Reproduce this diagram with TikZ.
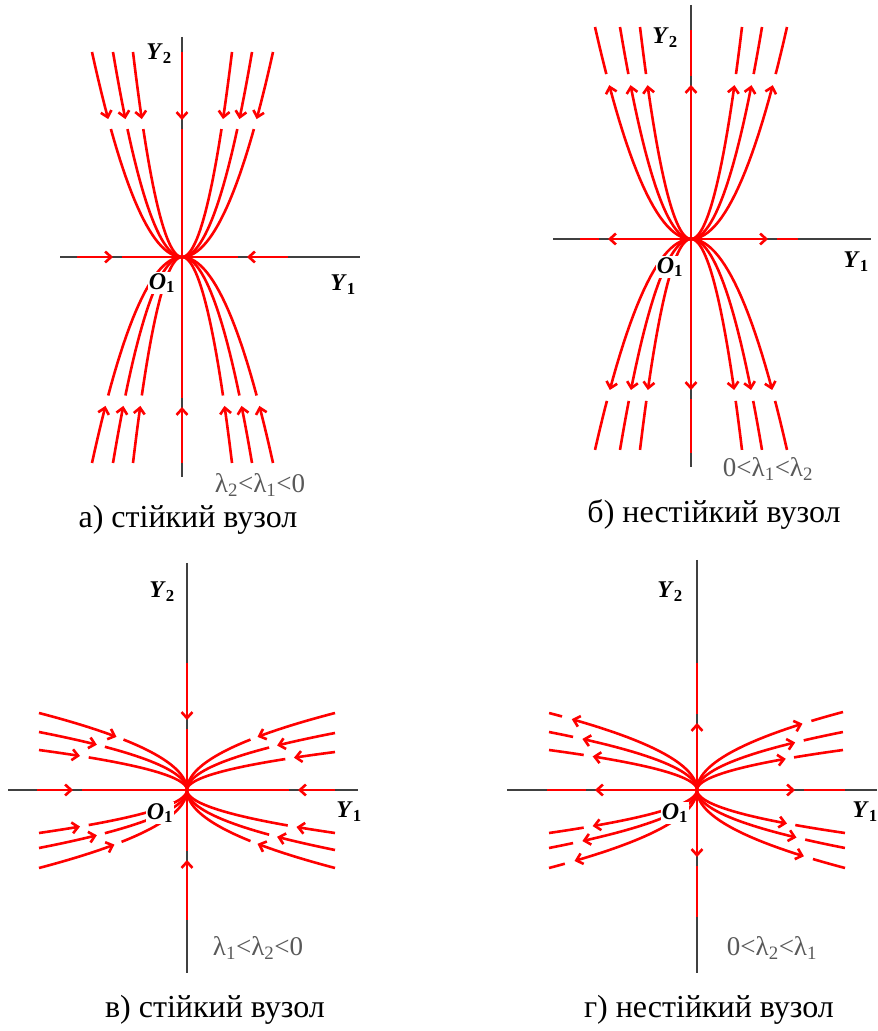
\documentclass[tikz,border=0pt]{standalone}
\usepackage{fontspec}
\setmainfont{Liberation Serif}
\usetikzlibrary{arrows.meta}

\tikzset{
  axis/.style={black!75, line width=1.8pt},
  flow/.style={red, line width=2.6pt},
  flowtip/.style={-{Straight Barb[length=6pt,width=11pt]}},
  axname/.style={font=\fontsize{24}{24}\selectfont\bfseries, inner sep=1pt},
  origin/.style={axname, fill=white},
  eigen/.style={font=\fontsize{27}{27}\selectfont, text=black!65, inner sep=1pt},
  caption/.style={font=\fontsize{32}{32}\selectfont, anchor=base}
}

\begin{document}
\begin{tikzpicture}[x=1pt,y=1pt]
\useasboundingbox (0,0) rectangle (878,1031);

% a) stable node, trajectories tangent to Y1
\begin{scope}[shift={(182,774)}]
\draw[axis] (0,220) -- (0,-220);
\draw[axis] (-122,0) -- (178,0);
\draw[flow,flowtip] (0,205) -- (0,137);
\draw[flow] (0,128) -- (0,0);
\draw[flow,flowtip] (0,-206) -- (0,-150);
\draw[flow] (0,-141) -- (0,0);
\draw[flow,flowtip] (-105,0) -- (-69,0);
\draw[flow] (-60,0) -- (0,0);
\draw[flow,flowtip] (106,0) -- (65,0);
\draw[flow] (56,0) -- (0,0);
\foreach \X in {-90,-69,-49,50,70,91} {
  \draw[flow,flowtip] plot[domain=1:0.82] ({\X*\x},{205*\x*\x});
  \draw[flow] plot[domain=0.79:0] ({\X*\x},{205*\x*\x});
  \draw[flow,flowtip] plot[domain=1:0.85] ({\X*\x},{-206*\x*\x});
  \draw[flow] plot[domain=0.82:0] ({\X*\x},{-206*\x*\x});
}
\node[axname] (a-y2) at (-23,203) {\textit{Y}\textsubscript{2}};
\node[axname] (a-y1) at (161,-28) {\textit{Y}\textsubscript{1}};
\node[origin] (a-o) at (-20,-26) {\textit{O}\textsubscript{1}};
\node[eigen] (a-lam) at (78,-228) {λ\textsubscript{2}<λ\textsubscript{1}<0};
\node[caption] (a-cap) at (6,-271) {а) стійкий вузол};
\end{scope}

% b) unstable node
\begin{scope}[shift={(691,792)}]
\draw[axis] (0,234) -- (0,-228);
\draw[axis] (-138,0) -- (180,0);
\draw[flow,flowtip] (0,0) -- (0,154);
\draw[flow] (0,163) -- (0,209);
\draw[flow,flowtip] (0,0) -- (0,-151);
\draw[flow] (0,-160) -- (0,-214);
\draw[flow,flowtip] (0,0) -- (-83,0);
\draw[flow] (-92,0) -- (-111,0);
\draw[flow,flowtip] (0,0) -- (77,0);
\draw[flow] (86,0) -- (107,0);
\foreach \X in {-96,-71,-51,51,71,96} {
  \draw[flow,flowtip] plot[domain=0:0.852] ({\X*\x},{212*\x*\x});
  \draw[flow] plot[domain=0.882:1] ({\X*\x},{212*\x*\x});
  \draw[flow,flowtip] plot[domain=0:0.846] ({\X*\x},{-211*\x*\x});
  \draw[flow] plot[domain=0.876:1] ({\X*\x},{-211*\x*\x});
}
\node[axname] (b-y2) at (-26,201) {\textit{Y}\textsubscript{2}};
\node[axname] (b-y1) at (165,-23) {\textit{Y}\textsubscript{1}};
\node[origin] (b-o) at (-21,-28) {\textit{O}\textsubscript{1}};
\node[eigen] (b-lam) at (77,-230) {0<λ\textsubscript{1}<λ\textsubscript{2}};
\node[caption] (b-cap) at (23,-284) {б) нестійкий вузол};
\end{scope}

% c) stable node, trajectories tangent to Y2
\begin{scope}[shift={(187,241)}]
\draw[axis] (0,227) -- (0,-183);
\draw[axis] (-179,0) -- (171,0);
\draw[flow,flowtip] (0,127) -- (0,70);
\draw[flow] (0,61) -- (0,0);
\draw[flow,flowtip] (0,-130) -- (0,-70);
\draw[flow] (0,-61) -- (0,0);
\draw[flow,flowtip] (-150,0) -- (-114,0);
\draw[flow] (-105,0) -- (0,0);
\draw[flow,flowtip] (148,0) -- (111,0);
\draw[flow] (102,0) -- (0,0);
\foreach \X/\Y/\ta in {-148/40/0.85, -148/58/0.78, -148/77/0.69,
    -148/-43/0.85, -148/-58/0.78, -148/-78/0.70,
    148/38/0.85, 148/57/0.78, 148/77/0.69,
    148/-43/0.86, 148/-60/0.78, 148/-78/0.69} {
  \pgfmathsetmacro\tb{\ta-0.035}
  \draw[flow,flowtip] plot[domain=1:\ta] ({\X*\x*\x},{\Y*\x});
  \draw[flow] plot[domain=\tb:0] ({\X*\x*\x},{\Y*\x});
}
\node[axname] (c-y2) at (-25,198) {\textit{Y}\textsubscript{2}};
\node[axname] (c-y1) at (162,-22) {\textit{Y}\textsubscript{1}};
\node[origin] (c-o) at (-27,-23) {\textit{O}\textsubscript{1}};
\node[eigen] (c-lam) at (71,-158) {λ\textsubscript{1}<λ\textsubscript{2}<0};
\node[caption] (c-cap) at (28,-228) {в) стійкий вузол};
\end{scope}

% d) unstable node
\begin{scope}[shift={(697,241)}]
\draw[axis] (0,230) -- (0,-183);
\draw[axis] (-190,0) -- (180,0);
\draw[flow,flowtip] (0,0) -- (0,67);
\draw[flow] (0,76) -- (0,127);
\draw[flow,flowtip] (0,0) -- (0,-67);
\draw[flow] (0,-76) -- (0,-127);
\draw[flow,flowtip] (0,0) -- (-102,0);
\draw[flow] (-111,0) -- (-150,0);
\draw[flow,flowtip] (0,0) -- (98,0);
\draw[flow] (107,0) -- (148,0);
\foreach \X/\Y/\ta in {-148/40/0.84, -148/58/0.88, -148/77/0.92,
    -148/-43/0.84, -148/-58/0.88, -148/-78/0.91,
    146/40/0.78, 146/58/0.82, 146/78/0.85,
    148/-43/0.78, 148/-58/0.82, 148/-78/0.85} {
  \pgfmathsetmacro\tb{\ta+0.035}
  \draw[flow,flowtip] plot[domain=0:\ta] ({\X*\x*\x},{\Y*\x});
  \draw[flow] plot[domain=\tb:1] ({\X*\x*\x},{\Y*\x});
}
\node[axname] (d-y2) at (-27,198) {\textit{Y}\textsubscript{2}};
\node[axname] (d-y1) at (168,-22) {\textit{Y}\textsubscript{1}};
\node[origin] (d-o) at (-22,-23) {\textit{O}\textsubscript{1}};
\node[eigen] (d-lam) at (75,-158) {0<λ\textsubscript{2}<λ\textsubscript{1}};
\node[caption] (d-cap) at (12,-228) {г) нестійкий вузол};
\end{scope}
\end{tikzpicture}
\end{document}
